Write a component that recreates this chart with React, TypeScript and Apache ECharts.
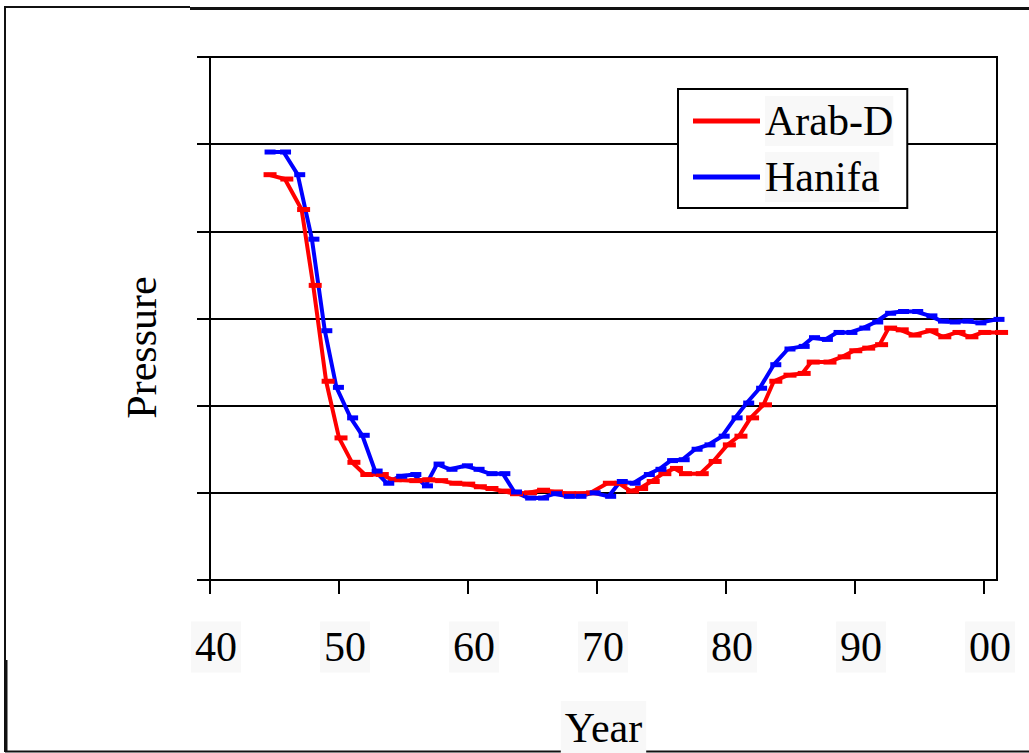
import React, { useEffect, useRef } from 'react';
import * as echarts from 'echarts';

const xTickYears = [1940, 1950, 1960, 1970, 1980, 1990, 2000];
const seriesNames = ['Arab-D', 'Hanifa'];

const arabYears = [1944.5, 1945.8, 1947.1, 1948.0, 1949.0, 1950.0, 1951.0, 1952.0, 1953.2, 1954.2, 1955.8, 1956.8, 1957.8, 1958.9, 1959.9, 1960.8, 1961.7, 1962.7, 1963.6, 1964.7, 1965.7, 1966.7, 1967.7, 1968.6, 1969.5, 1970.8, 1971.7, 1972.6, 1973.3, 1974.2, 1975.1, 1976.0, 1976.7, 1978.0, 1979.0, 1980.1, 1981.0, 1981.9, 1982.9, 1983.7, 1984.8, 1985.9, 1986.6, 1987.9, 1989.0, 1989.9, 1990.9, 1991.9, 1992.6, 1993.5, 1994.5, 1995.8, 1996.8, 1997.9, 1998.9, 1999.9, 2001.2];
const arabPressure = [4.65, 4.60, 4.25, 3.38, 2.28, 1.63, 1.35, 1.21, 1.21, 1.15, 1.14, 1.15, 1.14, 1.11, 1.10, 1.07, 1.05, 1.02, 0.99, 1.00, 1.03, 1.01, 0.99, 0.99, 1.00, 1.11, 1.11, 1.02, 1.05, 1.13, 1.22, 1.28, 1.22, 1.22, 1.36, 1.55, 1.65, 1.86, 2.01, 2.28, 2.35, 2.37, 2.50, 2.50, 2.56, 2.63, 2.66, 2.70, 2.89, 2.87, 2.81, 2.86, 2.79, 2.84, 2.79, 2.84, 2.84];

const hanifaYears = [1944.5, 1945.7, 1946.8, 1947.9, 1948.9, 1949.8, 1950.9, 1951.8, 1952.8, 1953.7, 1954.7, 1955.8, 1956.7, 1957.6, 1958.6, 1959.8, 1960.7, 1961.7, 1962.7, 1963.6, 1964.7, 1965.7, 1966.7, 1967.7, 1968.6, 1969.7, 1970.9, 1971.8, 1972.8, 1973.9, 1974.8, 1975.7, 1976.6, 1977.6, 1978.6, 1979.7, 1980.7, 1981.6, 1982.6, 1983.7, 1984.8, 1985.9, 1986.7, 1987.7, 1988.6, 1989.6, 1990.6, 1991.6, 1992.6, 1993.6, 1994.7, 1995.8, 1996.7, 1997.6, 1998.6, 1999.6, 2001.0];
const hanifaPressure = [4.91, 4.91, 4.65, 3.91, 2.86, 2.21, 1.86, 1.66, 1.25, 1.11, 1.19, 1.21, 1.08, 1.33, 1.27, 1.31, 1.27, 1.22, 1.22, 1.01, 0.94, 0.94, 0.99, 0.96, 0.96, 1.00, 0.96, 1.13, 1.11, 1.21, 1.27, 1.37, 1.38, 1.50, 1.55, 1.65, 1.86, 2.03, 2.20, 2.47, 2.65, 2.68, 2.78, 2.76, 2.84, 2.84, 2.89, 2.96, 3.06, 3.08, 3.08, 3.03, 2.97, 2.96, 2.97, 2.95, 2.99];

const FONT = 'Liberation Serif';
const BOX = '#f8f8f8';

export default function App() {
  const ref = useRef<HTMLDivElement>(null);
  useEffect(() => {
    if (!ref.current) return;
    const chart = echarts.init(ref.current, null, { renderer: 'svg' });
    const lineEl = (x1: number, y1: number, x2: number, y2: number, w: number) => ({
      type: 'line',
      shape: { x1, y1, x2, y2 },
      style: { stroke: '#111', lineWidth: w },
      silent: true,
    });
    chart.setOption({
      animation: false,
      backgroundColor: '#ffffff',
      textStyle: { fontFamily: FONT },
      grid: {
        left: 210, top: 57, right: 32, bottom: 173,
        containLabel: false, outerBoundsMode: 'none',
        show: true, borderColor: '#000', borderWidth: 2, backgroundColor: 'transparent',
      },
      xAxis: {
        type: 'value', min: 1940, max: 2001, interval: 10,
        axisLine: { show: true, lineStyle: { color: '#000', width: 2 } },
        axisTick: { show: true, length: 14, lineStyle: { color: '#000', width: 2 }, customValues: xTickYears },
        axisLabel: {
          customValues: xTickYears,
          formatter: (v: number) =>
            Math.round(v) % 10 !== 0 ? '' : '{pad| }{t|' + String(Math.round(v) % 100).padStart(2, '0') + '}',
          fontFamily: FONT, fontSize: 42, color: '#000',
          margin: 46,
          rich: {
            pad: { width: 12, fontFamily: FONT, fontSize: 42, lineHeight: 42 },
            t: { fontFamily: FONT, fontSize: 42, lineHeight: 42, color: '#000', backgroundColor: BOX, padding: [4, 4, 5, 4] },
          },
        },
        splitLine: { show: false },
        name: 'Year', nameLocation: 'middle', nameGap: 121,
        nameTextStyle: {
          fontFamily: FONT, fontSize: 42, lineHeight: 46, color: '#000',
          padding: [4, 4, 4, 4], backgroundColor: BOX,
        },
      },
      yAxis: {
        type: 'value', min: 0, max: 6, interval: 1,
        axisLine: { show: true, lineStyle: { color: '#000', width: 2 } },
        axisTick: { show: true, length: 13, lineStyle: { color: '#000', width: 2 } },
        axisLabel: { show: false },
        splitLine: { show: true, lineStyle: { color: '#000', width: 2 } },
        name: 'Pressure', nameLocation: 'middle', nameGap: 47,
        nameTextStyle: { fontFamily: FONT, fontSize: 42, color: '#000', padding: [0, 58, 0, 0] },
      },
      legend: {
        orient: 'vertical', left: 678, top: 89,
        padding: [7, 14, 6, 15], itemGap: 6, itemWidth: 67, itemHeight: 5,
        icon: 'rect', borderColor: '#000', borderWidth: 2, backgroundColor: '#fff',
        textStyle: { fontFamily: FONT, fontSize: 42, lineHeight: 50, color: '#000', backgroundColor: BOX },
        data: seriesNames,
      },
      graphic: [
        lineEl(5, 7, 190, 7, 2),
        lineEl(190, 8.5, 1029, 8.5, 3),
        lineEl(5, 6, 5, 752, 2),
        lineEl(6, 660, 6, 752, 3),
        lineEl(5, 751.5, 1029, 751.5, 2),
      ],
      series: [
        {
          name: seriesNames[0], type: 'line',
          data: arabYears.map((y, i) => [y, arabPressure[i]]),
          symbol: 'rect', symbolSize: [13, 5], symbolOffset: [2, 0],
          lineStyle: { color: '#ff0000', width: 4 },
          itemStyle: { color: '#ff0000' },
          clip: false, z: 3,
        },
        {
          name: seriesNames[1], type: 'line',
          data: hanifaYears.map((y, i) => [y, hanifaPressure[i]]),
          symbol: 'rect', symbolSize: [11, 5], symbolOffset: [2, 0],
          lineStyle: { color: '#0000ff', width: 4 },
          itemStyle: { color: '#0000ff' },
          clip: false, z: 3,
        },
      ],
    });
    return () => chart.dispose();
  }, []);
  return (
    <div
      ref={ref}
      style={{ position: 'fixed', left: 0, top: 0, width: 1029, height: 753, background: '#fff' }}
    />
  );
}
